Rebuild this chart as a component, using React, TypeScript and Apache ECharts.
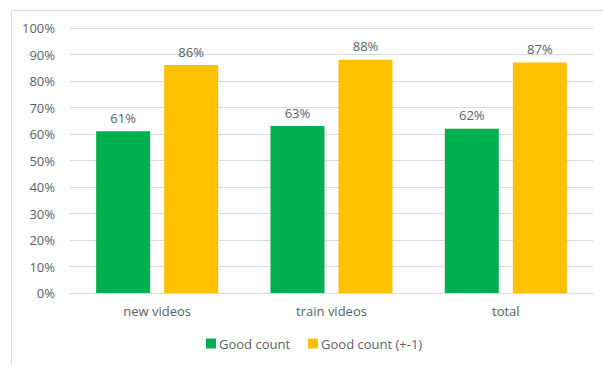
import React, { useEffect, useRef } from "react";
import * as echarts from "echarts";

const categories = ["new videos", "train videos", "total"];
const goodCount = [61, 63, 62];
const goodCountPm1 = [86, 88, 87];
const seriesNames = ["Good count", "Good count (+-1)"];

const FONT = "'Open Sans', sans-serif";
const TEXT = "#585f6b";
const FS = 13;

export default function App() {
  const ref = useRef<HTMLDivElement>(null);
  useEffect(() => {
    if (!ref.current) return;
    const chart = echarts.init(ref.current, undefined, { renderer: "svg" });
    chart.setOption({
      animation: false,
      backgroundColor: "#fff",
      textStyle: { fontFamily: FONT },
      graphic: [
        {
          type: "rect",
          shape: { x: 11.5, y: 10.5, width: 620, height: 380 },
          style: { fill: "none", stroke: "#d9d9d9", lineWidth: 1 },
          silent: true,
          z: -1,
        },
      ],
      grid: { left: 70, right: 10, top: 28, bottom: 72, containLabel: false },
      legend: {
        bottom: 10,
        left: 201,
        itemWidth: 10,
        itemHeight: 10,
        itemGap: 18,
        icon: "rect",
        textStyle: { color: TEXT, fontSize: FS, fontFamily: FONT, padding: [0, 0, 0, -2] },
        data: seriesNames,
      },
      xAxis: {
        type: "category",
        data: categories,
        axisTick: { show: false },
        axisLine: { lineStyle: { color: "#d9d9d9" } },
        axisLabel: { color: TEXT, fontSize: FS, margin: 11, fontFamily: FONT },
      },
      yAxis: {
        type: "value",
        min: 0,
        max: 100,
        interval: 10,
        axisLabel: { formatter: "{value}%", color: TEXT, fontSize: FS, margin: 15, fontFamily: FONT },
        splitLine: { lineStyle: { color: "#d9d9d9" } },
        axisLine: { show: false },
        axisTick: { show: false },
      },
      series: [
        {
          name: seriesNames[0],
          type: "bar",
          data: goodCount,
          barWidth: 54,
          barGap: "26%",
          itemStyle: { color: "#00b050" },
          label: { show: true, position: "top", distance: 7, formatter: "{c}%", color: TEXT, fontSize: FS, fontFamily: FONT },
        },
        {
          name: seriesNames[1],
          type: "bar",
          data: goodCountPm1,
          barWidth: 54,
          itemStyle: { color: "#ffc000" },
          label: { show: true, position: "top", distance: 7, formatter: "{c}%", color: TEXT, fontSize: FS, fontFamily: FONT },
        },
      ],
    });
    return () => chart.dispose();
  }, []);
  return <div ref={ref} style={{ position: "fixed", left: 0, top: 0, width: 603, height: 365 }} />;
}
